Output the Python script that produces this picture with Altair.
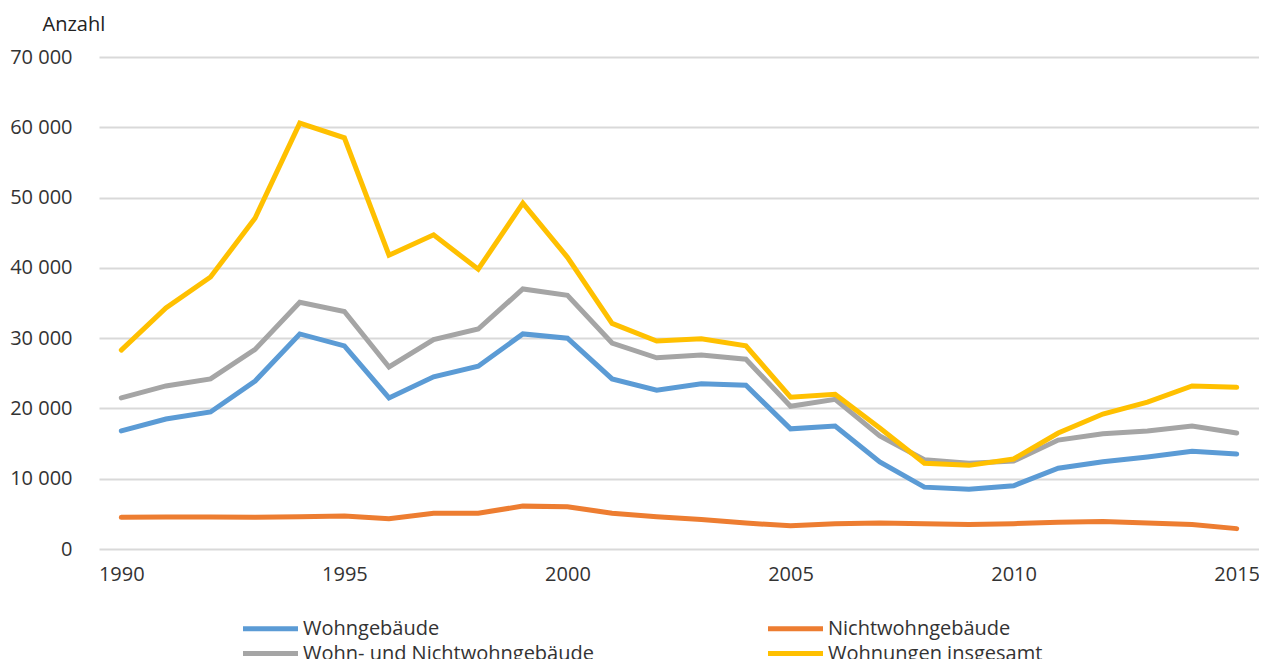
import altair as alt
import pandas as pd

years = list(range(1990, 2016))

wohngebaeude = [16800, 18500, 19500, 23900, 30600, 28900, 21500, 24500, 26000, 30600,
                30000, 24200, 22600, 23500, 23300, 17100, 17500, 12400, 8800, 8500,
                9000, 11500, 12400, 13100, 13900, 13500]
nichtwohngebaeude = [4500, 4550, 4550, 4500, 4600, 4700, 4300, 5100, 5100, 6100,
                     6000, 5100, 4600, 4200, 3700, 3300, 3600, 3700, 3600, 3500,
                     3600, 3800, 3900, 3700, 3500, 2900]
wohn_und_nicht = [21500, 23200, 24200, 28400, 35100, 33800, 25900, 29800, 31300, 37000,
                  36100, 29300, 27200, 27600, 27000, 20300, 21300, 16100, 12700, 12200,
                  12500, 15500, 16400, 16800, 17500, 16500]
wohnungen = [28300, 34300, 38700, 47100, 60600, 58500, 41800, 44700, 39800, 49200,
             41500, 32100, 29600, 29900, 28900, 21600, 22000, 17200, 12200, 11900,
             12800, 16500, 19200, 20900, 23200, 23000]

series_names = ["Wohngebäude", "Wohn- und Nichtwohngebäude", "Nichtwohngebäude", "Wohnungen insgesamt"]
series_values = [wohngebaeude, wohn_und_nicht, nichtwohngebaeude, wohnungen]
colors = ["#5B9BD5", "#A5A5A5", "#ED7D31", "#FFC000"]

x_ticks = [1990, 1995, 2000, 2005, 2010, 2015]
y_ticks = [0, 10000, 20000, 30000, 40000, 50000, 60000, 70000]

rows = []
for name, vals in zip(series_names, series_values):
    for y, v in zip(years, vals):
        rows.append({"Jahr": y, "Anzahl": v, "Serie": name})
df = pd.DataFrame(rows)

FONT = "Open Sans"
TEXT = "#333333"

chart = alt.Chart(df).mark_line(strokeWidth=5, strokeCap="round", strokeJoin="miter").encode(
    x=alt.X("Jahr:Q",
            scale=alt.Scale(domain=[1989.5, 2015.5], nice=False, zero=False),
            axis=alt.Axis(values=x_ticks, format="d", grid=False, domain=False, ticks=False,
                          labelPadding=15, labelFontSize=20, labelFont=FONT, labelColor=TEXT,
                          title=None, labelFlush=False)),
    y=alt.Y("Anzahl:Q",
            scale=alt.Scale(domain=[0, 70000], nice=False),
            axis=alt.Axis(values=y_ticks, grid=True, gridColor="#D9D9D9", gridWidth=2,
                          domain=False, ticks=False, labelPadding=27, labelFontSize=20,
                          labelFont=FONT, labelColor=TEXT,
                          labelExpr="datum.value == 0 ? '0' : format(datum.value / 1000, 'd') + ' 000'",
                          title="Anzahl", titleAngle=0, titleAlign="left", titleBaseline="alphabetic",
                          titleX=-57, titleY=-27, titleFont=FONT, titleFontSize=20,
                          titleFontWeight="normal", titleColor="#222222")),
    color=alt.Color("Serie:N",
                    scale=alt.Scale(domain=series_names, range=colors),
                    legend=alt.Legend(title=None, orient="none", legendX=159, legendY=559,
                                      columns=2, columnPadding=164, rowPadding=2,
                                      symbolType="M-2.75,0H2.75", symbolSize=400, symbolStrokeWidth=5,
                                      labelFont=FONT, labelFontSize=20, labelColor=TEXT,
                                      labelOffset=20, labelLimit=400, padding=0)),
).properties(
    width=1160,
    height=492,
    autosize=alt.AutoSizeParams(type="none"),
    padding={"left": 91, "top": 49, "right": 0, "bottom": 110},
).configure_view(stroke=None)

chart.save("out.html", embed_options={"renderer": "svg", "actions": False})
